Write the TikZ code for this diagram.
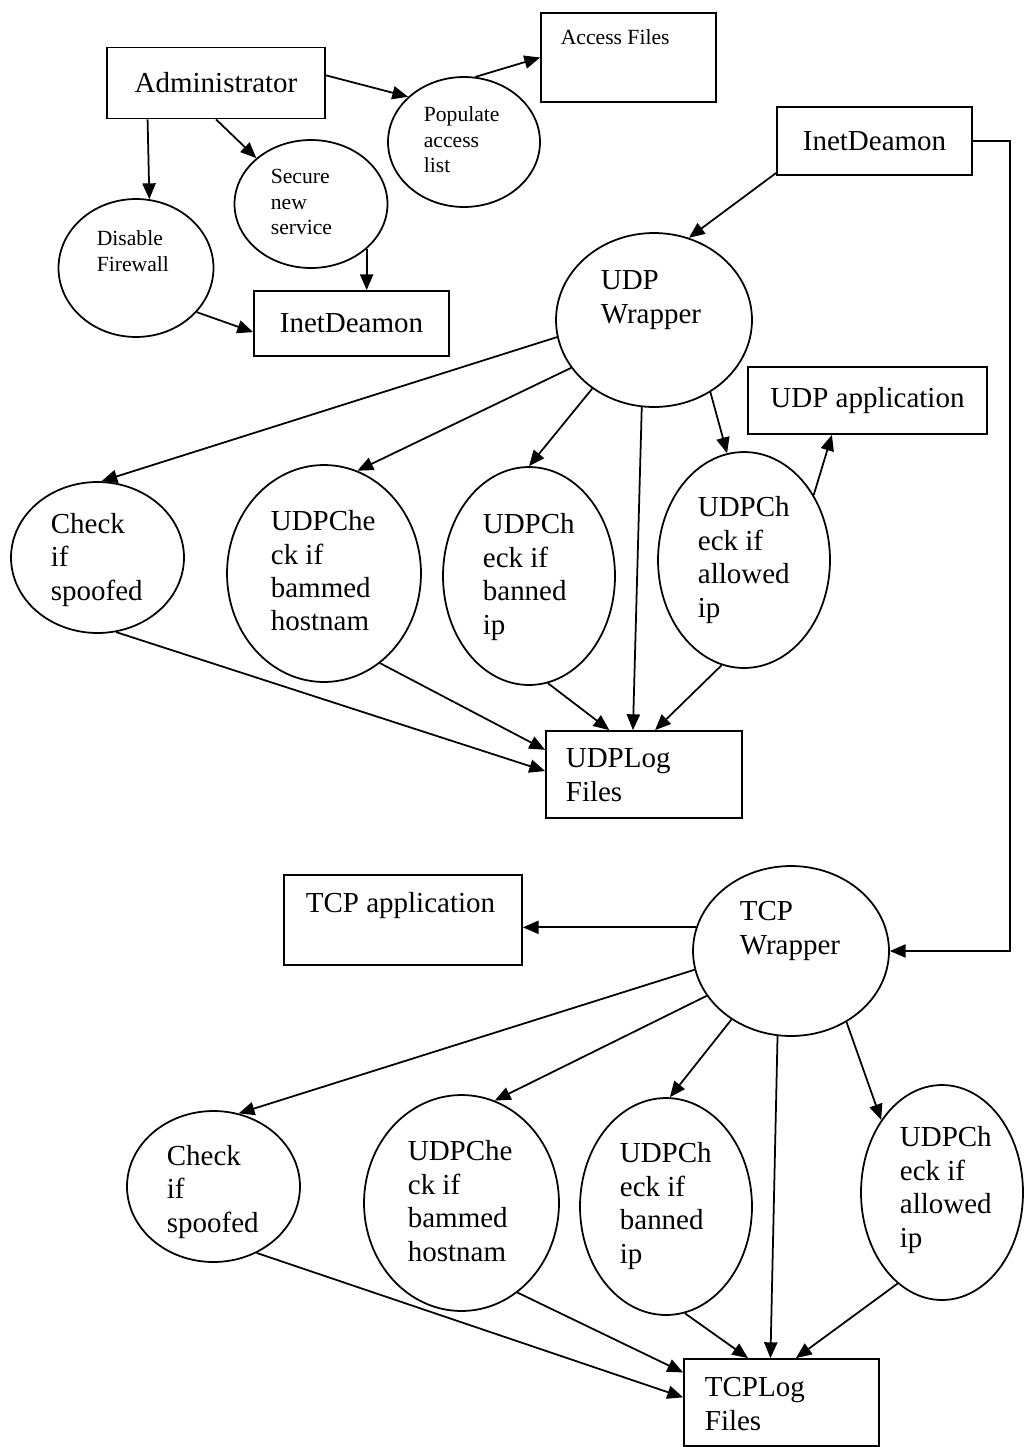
\documentclass[tikz,border=0pt]{standalone}
\usepackage{fontspec}
\setmainfont{Liberation Serif}
\usetikzlibrary{shapes.geometric,arrows.meta}
\newcommand{\bigtxt}{\fontsize{16.5}{19}\selectfont}
\newcommand{\smalltxt}{\fontsize{12.3}{14.5}\selectfont}
\begin{document}
\begin{tikzpicture}[x=0.02cm,y=-0.02cm,line width=1pt,
box/.style={draw,rectangle,inner sep=0pt,font=\bigtxt},
ell/.style={draw,ellipse,inner sep=0pt},
txt/.style={align=left,inner sep=0pt,anchor=west,font=\bigtxt},
stxt/.style={align=left,inner sep=0pt,anchor=west,font=\smalltxt},
arr/.style={-{Triangle[length=9pt,width=7.5pt]}}]
\useasboundingbox (0,0) rectangle (1024,1447);
% administrator part
\node[box,minimum width=4.36cm,minimum height=1.42cm] (adm) at (216,83) {Administrator};
\node[box,minimum width=3.5cm,minimum height=1.78cm] (acc) at (628.5,57.5) {};
\node[stxt,anchor=base west] (acc-t) at (560,44) {Access Files};
\node[ell,minimum width=3.04cm,minimum height=2.6cm] (pop) at (464,142) {};
\node[stxt] (pop-t) at (423,140) {Populate\\access\\list};
\node[ell,minimum width=3.06cm,minimum height=2.56cm] (sec) at (311,204) {};
\node[stxt] (sec-t) at (270,202) {Secure\\new\\service};
\node[ell,minimum width=3.1cm,minimum height=2.76cm] (dis) at (136,268) {};
\node[stxt] (dis-t) at (96,251) {Disable\\Firewall};
\node[box,minimum width=3.9cm,minimum height=1.3cm] (inet1) at (351.5,323.5) {InetDeamon};
\draw[arr] (adm.208) -- (dis.79);
\draw[arr] (adm.south) -- (sec.140);
\draw[arr] (adm.4) -- (pop.141);
\draw[arr] (pop.80) -- (acc.west);
\draw[arr] (sec.321) -- (sec.321 |- inet1.north);
\draw[arr] (dis.324) -- (inet1.185);
% UDP wrapper
\node[box,minimum width=3.9cm,minimum height=1.36cm] (inet2) at (874.5,141) {InetDeamon};
\node[ell,minimum width=3.92cm,minimum height=3.48cm] (udpw) at (654,320) {};
\node[txt] (udpw-t) at (600,300) {UDP\\Wrapper};
\node[box,minimum width=4.78cm,minimum height=1.34cm] (udpapp) at (867.5,400.5) {UDP application};
\node[ell,minimum width=3.46cm,minimum height=3.02cm] (uspoof) at (97.5,557.5) {};
\node[txt] (uspoof-t) at (50,560) {Check\\if\\spoofed};
\node[ell,minimum width=3.88cm,minimum height=4.34cm] (uhost) at (324,573.5) {};
\node[txt] (uhost-t) at (270,571) {UDPChe\\ck if\\bammed\\hostnam};
\node[ell,minimum width=3.44cm,minimum height=4.36cm] (uban) at (529,576) {};
\node[txt] (uban-t) at (482,577) {UDPCh\\eck if\\banned\\ip};
\node[ell,minimum width=3.44cm,minimum height=4.32cm] (uallow) at (744,560) {};
\node[txt] (uallow-t) at (697,560) {UDPCh\\eck if\\allowed\\ip};
\node[box,minimum width=3.92cm,minimum height=1.74cm] (udplog) at (644,774.5) {};
\node[txt] (udplog-t) at (565,775) {UDPLog\\Files};
\draw[arr] (inet2.198) -- (udpw.67);
\draw[arr] (udpw.190) -- (uspoof.87);
\draw[arr] (udpw.210) -- (uhost.72);
\draw[arr] (udpw.228) -- (uban.north);
\draw[arr] (udpw.262) -- (udplog.104);
\draw[arr] (udpw.308) -- (uallow.99);
\draw[arr] (uallow.43) -- (udpapp.224);
\draw[arr] (uspoof.284) -- (udplog.178);
\draw[arr] (uhost.302) -- (udplog.166);
\draw[arr] (uban.280) -- (udplog.128);
\draw[arr] (uallow.258) -- (udplog.76);
% TCP wrapper
\node[box,minimum width=4.76cm,minimum height=1.8cm] (tcpapp) at (403,920) {};
\node[txt,anchor=base west] (tcpapp-t) at (305,912) {TCP application};
\node[ell,minimum width=3.92cm,minimum height=3.4cm] (tcpw) at (791,951) {};
\node[txt] (tcpw-t) at (739,931) {TCP\\Wrapper};
\node[ell,minimum width=3.46cm,minimum height=3.02cm] (tspoof) at (213.5,1186.5) {};
\node[txt] (tspoof-t) at (166,1192) {Check\\if\\spoofed};
\node[ell,minimum width=3.9cm,minimum height=4.32cm] (thost) at (461.5,1203) {};
\node[txt] (thost-t) at (407,1201) {UDPChe\\ck if\\bammed\\hostnam};
\node[ell,minimum width=3.44cm,minimum height=4.34cm] (tban) at (666,1206.5) {};
\node[txt] (tban-t) at (619,1206) {UDPCh\\eck if\\banned\\ip};
\node[ell,minimum width=3.24cm,minimum height=4.3cm] (tallow) at (942,1192.5) {};
\node[txt] (tallow-t) at (899,1190) {UDPCh\\eck if\\allowed\\ip};
\node[box,minimum width=3.9cm,minimum height=1.74cm] (tcplog) at (781.5,1402.5) {};
\node[txt] (tcplog-t) at (704,1404) {TCPLog\\Files};
\coordinate (rail) at (1010,0);
\draw[arr] (inet2.east) -- (inet2.east -| rail) |- (tcpw.east);
\draw[arr] (tcpw.166) -- (tcpw.166 -| tcpapp.east);
\draw[arr] (tcpw.191) -- (tspoof.71);
\draw[arr] (tcpw.208) -- (thost.72);
\draw[arr] (tcpw.229) -- (tban.88);
\draw[arr] (tcpw.261) -- (tcplog.104);
\draw[arr] (tcpw.308) -- (tallow.130);
\draw[arr] (tspoof.303) -- (tcplog.177);
\draw[arr] (thost.302) -- (tcplog.163);
\draw[arr] (tban.280) -- (tcplog.127);
\draw[arr] (tallow.244) -- (tcplog.72);
\end{tikzpicture}
\end{document}
